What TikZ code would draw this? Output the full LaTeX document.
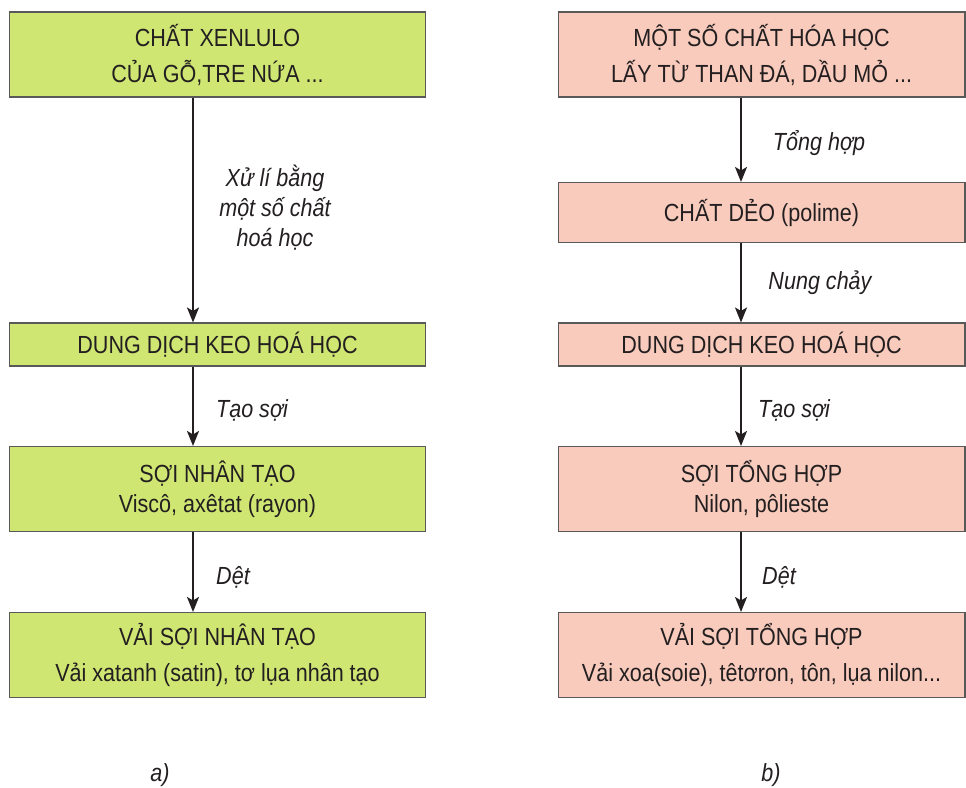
\documentclass[tikz,border=0pt]{standalone}
\usepackage{fontspec}
\setmainfont{Liberation Sans}[FakeStretch=0.87]
\usetikzlibrary{arrows.meta,positioning}

\definecolor{boxgreen}{RGB}{207,230,115}
\definecolor{boxpink}{RGB}{249,203,188}
\definecolor{ink}{RGB}{35,31,32}

\begin{document}
\begin{tikzpicture}[x=0.02cm,y=-0.02cm,
  every node/.style={text=ink,font=\fontsize{14.1}{17}\selectfont,align=center,inner sep=0pt},
  greenbox/.style={rectangle,draw=black!65,line width=0.6pt,fill=boxgreen,minimum width=8.34cm},
  pinkbox/.style={rectangle,draw=black!65,line width=0.6pt,fill=boxpink,minimum width=8.14cm},
  steplabel/.style={font=\fontsize{14.1}{17}\selectfont\itshape},
  arr/.style={draw=ink,line width=1.1pt,-{Stealth[length=0.3cm,width=0.24cm,inset=0.07cm]}}]
			\useasboundingbox (0,0) rectangle (966,787);

			% left column
			\node[greenbox,minimum height=1.7cm] (l1) at (217.5,54.5) {CHẤT XENLULO\\[3.5pt]CỦA GỖ,TRE NỨA ...};
			\node[greenbox,minimum height=0.86cm] (l2) at (217.5,344.5) {DUNG DỊCH KEO HOÁ HỌC};
			\node[greenbox,minimum height=1.7cm] (l3) at (217.5,489) {SỢI NHÂN TẠO\\Viscô, axêtat (rayon)};
			\node[greenbox,minimum height=1.7cm] (l4) at (217.5,655) {VẢI SỢI NHÂN TẠO\\[3pt]Vải xatanh (satin), tơ lụa nhân tạo};
			\coordinate (la) at (193,0);

			% right column
			\node[pinkbox,minimum height=1.7cm] (r1) at (761.5,54.5) {MỘT SỐ CHẤT HÓA HỌC\\[3.5pt]LẤY TỪ THAN ĐÁ, DẦU MỎ ...};
			\node[pinkbox,minimum height=1.2cm] (r2) at (761.5,212.5) {CHẤT DẺO (polime)};
			\node[pinkbox,minimum height=0.86cm] (r3) at (761.5,344.5) {DUNG DỊCH KEO HOÁ HỌC};
			\node[pinkbox,minimum height=1.7cm] (r4) at (761.5,489) {SỢI TỔNG HỢP\\Nilon, pôlieste};
			\node[pinkbox,minimum height=1.7cm] (r5) at (761.5,655) {VẢI SỢI TỔNG HỢP\\[3pt]Vải xoa(soie), têtơron, tôn, lụa nilon...};
			\coordinate (ra) at (741,0);

			% step labels
			\node[steplabel] (s1) at (275,208) {Xử lí bằng\\một số chất\\hoá học};
			\node[steplabel] (s2) at (252,410) {Tạo sợi};
			\node[steplabel] (s3) at (233,577) {Dệt};
			\node[steplabel] (s4) at (819,143) {Tổng hợp};
			\node[steplabel] (s5) at (820,283) {Nung chảy};
			\node[steplabel] (s6) at (794,410) {Tạo sợi};
			\node[steplabel] (s7) at (779,577) {Dệt};

			\node[steplabel] (ca) at (160,775) {a)};
			\node[steplabel] (cb) at (771,775) {b)};

			\draw[arr] (l1.south -| la)--(l2.north -| la);
			\draw[arr] (l2.south -| la)--(l3.north -| la);
			\draw[arr] (l3.south -| la)--(l4.north -| la);
			\draw[arr] (r1.south -| ra)--(r2.north -| ra);
			\draw[arr] (r2.south -| ra)--(r3.north -| ra);
			\draw[arr] (r3.south -| ra)--(r4.north -| ra);
			\draw[arr] (r4.south -| ra)--(r5.north -| ra);
		\end{tikzpicture}
\end{document}
